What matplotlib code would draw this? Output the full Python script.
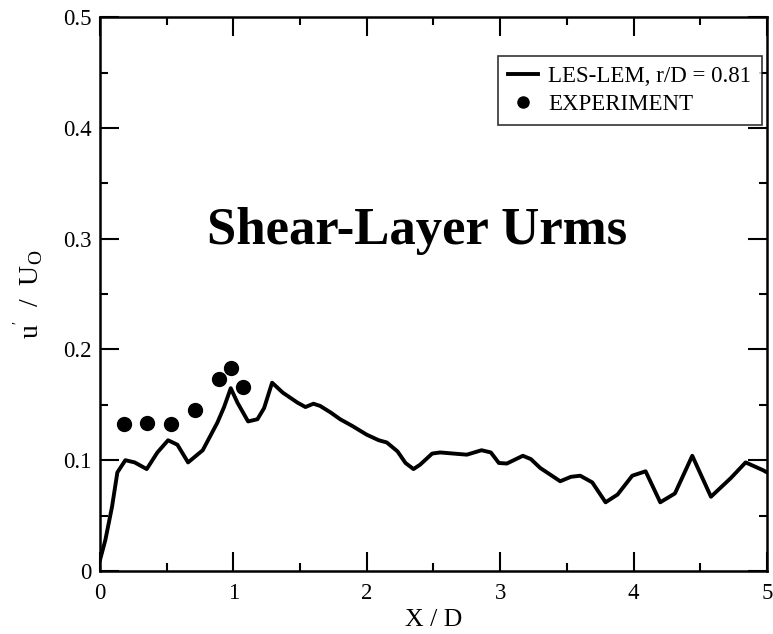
import numpy as np
import matplotlib
matplotlib.use("Agg")
import matplotlib.pyplot as plt
from matplotlib.ticker import MultipleLocator, FormatStrFormatter, FuncFormatter

# LES-LEM shear-layer profile at r/D = 0.81
les_x = [0.0, 0.04, 0.06, 0.09, 0.13, 0.19, 0.26, 0.35, 0.43, 0.51, 0.58, 0.66,
         0.77, 0.88, 0.93, 0.98, 1.03, 1.11, 1.18, 1.23, 1.29, 1.37, 1.48, 1.54,
         1.60, 1.65, 1.73, 1.80, 1.89, 2.00, 2.09, 2.15, 2.23, 2.29, 2.35, 2.40,
         2.49, 2.55, 2.65, 2.75, 2.86, 2.93, 2.99, 3.05, 3.17, 3.23, 3.30, 3.45,
         3.53, 3.60, 3.69, 3.79, 3.88, 3.99, 4.09, 4.20, 4.31, 4.44, 4.58, 4.73,
         4.84, 4.97, 5.00]
les_u = [0.010, 0.028, 0.040, 0.058, 0.089, 0.100, 0.098, 0.092, 0.107, 0.118,
         0.114, 0.098, 0.109, 0.134, 0.148, 0.165, 0.152, 0.135, 0.137, 0.147,
         0.170, 0.161, 0.152, 0.148, 0.151, 0.149, 0.143, 0.137, 0.131, 0.123,
         0.118, 0.116, 0.108, 0.0975, 0.092, 0.096, 0.106, 0.107, 0.106, 0.105,
         0.109, 0.107, 0.0975, 0.097, 0.104, 0.101, 0.093, 0.081, 0.085, 0.086,
         0.080, 0.062, 0.069, 0.086, 0.090, 0.062, 0.070, 0.104, 0.067, 0.084,
         0.098, 0.091, 0.089]

# measured rms values
exp_x = [0.18, 0.35, 0.53, 0.71, 0.89, 0.98, 1.07]
exp_u = [0.133, 0.134, 0.133, 0.145, 0.173, 0.183, 0.166]

SERIF = ["Liberation Serif", "DejaVu Serif"]
plt.rcParams["font.family"] = SERIF
plt.rcParams["mathtext.fontset"] = "custom"
plt.rcParams["mathtext.rm"] = "Liberation Serif"
plt.rcParams["mathtext.it"] = "Liberation Serif"

fig = plt.figure(figsize=(7.73, 6.34), dpi=100)
ax = fig.add_axes([0.1294, 0.0994, 0.8628, 0.8736])

ax.plot(les_x, les_u, color="black", lw=2.8, label="LES-LEM, r/D = 0.81")
ax.plot(exp_x, exp_u, "o", color="black", ms=10, label="EXPERIMENT")

ax.set_xlim(0, 5)
ax.set_ylim(0, 0.5)

ax.xaxis.set_major_locator(MultipleLocator(1))
ax.xaxis.set_minor_locator(MultipleLocator(0.5))
ax.yaxis.set_major_locator(MultipleLocator(0.1))
ax.yaxis.set_minor_locator(MultipleLocator(0.05))
ax.xaxis.set_major_formatter(FormatStrFormatter("%d"))
ax.yaxis.set_major_formatter(FuncFormatter(lambda v, p: "0" if abs(v) < 1e-9 else f"{v:.1f}"))

ax.tick_params(which="both", direction="in", top=True, right=True, width=1.5,
               labelsize=16.5)
ax.tick_params(axis="x", which="both", pad=9)
ax.tick_params(axis="y", which="both", pad=6)
ax.tick_params(which="major", length=14)
ax.tick_params(which="minor", length=6)
for sp in ax.spines.values():
    sp.set_linewidth(1.8)

ax.set_xlabel("X / D", fontsize=18.5, labelpad=3)
ax.set_ylabel(r"u$^{'}$  /  U$_{\rm O}$", fontsize=20, labelpad=12)

ax.text(2.38, 0.307, "Shear-Layer Urms", fontsize=38, fontweight="bold",
        ha="center", va="center")

leg = ax.legend(loc="upper right", bbox_to_anchor=(0.992, 0.93), borderaxespad=0,
                fontsize=16.5, frameon=True, fancybox=False, handlelength=1.3,
                handletextpad=0.45, borderpad=0.45, labelspacing=0.3, markerscale=0.8)
leg.get_frame().set_edgecolor("black")
leg.get_frame().set_linewidth(1.2)

fig.savefig("out.png", dpi=100)
